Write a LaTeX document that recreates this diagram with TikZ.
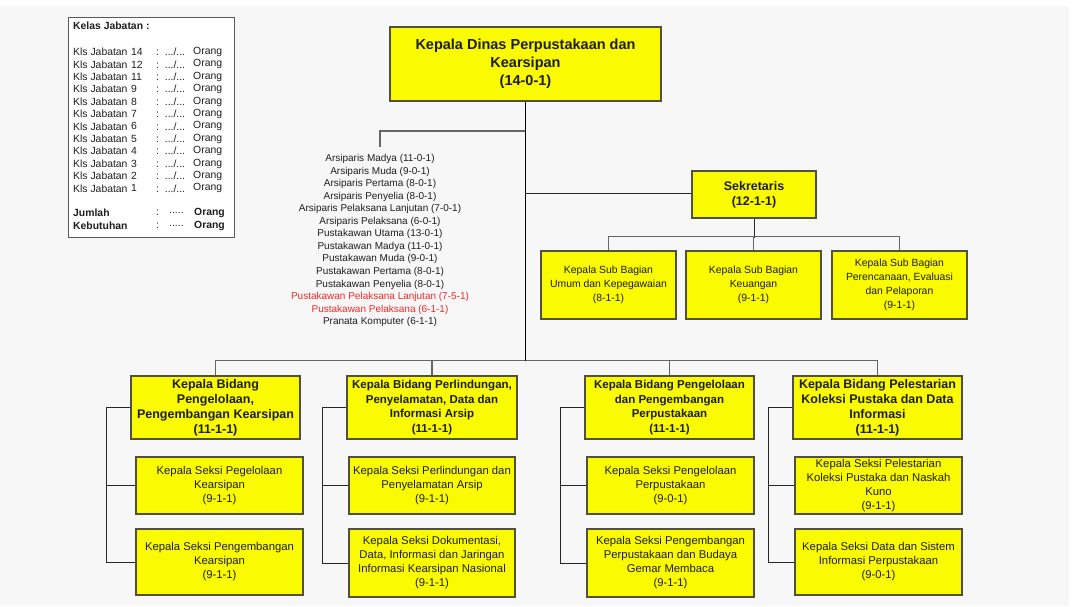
\documentclass[tikz,border=0pt]{standalone}
\usepackage{fontspec}
\setmainfont{Liberation Sans}
\usetikzlibrary{positioning}

\definecolor{bgc}{RGB}{247,247,247}
\definecolor{boxy}{RGB}{250,250,0}
\definecolor{boxline}{RGB}{80,80,60}
\definecolor{redtxt}{RGB}{250,40,40}
\definecolor{txt}{RGB}{30,30,30}

\begin{document}
\begin{tikzpicture}[x=1pt, y=-1pt]
  \tikzset{
    jab/.style={draw=boxline, fill=boxy, line width=1.2pt, align=center, inner sep=1pt, text=txt},
    head/.style={jab, font=\fontsize{12.5}{15}\selectfont\bfseries},
    headsm/.style={jab, font=\fontsize{11.5}{14.5}\selectfont\bfseries},
    seksi/.style={jab, font=\fontsize{11.3}{14}\selectfont},
    subbag/.style={jab, font=\fontsize{10.4}{14}\selectfont},
    trunk/.style={draw=black, line width=1.7pt},
    bus/.style={draw=black!60, line width=1.1pt},
    side/.style={draw=black!85, line width=0.9pt},
    leg/.style={font=\fontsize{10.4}{12}\selectfont, anchor=west, inner sep=0pt, text=txt},
    legb/.style={leg, font=\fontsize{10.4}{12}\selectfont\bfseries}
  }

  % canvas
  \useasboundingbox (0,0) rectangle (1076,606);
  \fill[white] (0,0) rectangle (1076,606);
  \fill[bgc] (0,6) rectangle (1069,606);

  % legend (kelas jabatan)
  \draw[fill=white, draw=black!65, line width=0.9pt] (68,17) rectangle (234,237);
  \node[legb] (legT) at (73,26) {Kelas Jabatan :};
  \foreach \n [count=\i from 0] in {14,12,11,9,8,7,6,5,4,3,2,1} {
    \node[leg] at (73,{52+12.4*\i}) {Kls Jabatan};
    \node[leg] at (131,{52+12.4*\i}) {\n};
    \node[leg] at (156,{52+12.4*\i}) {:\ \ .../...};
    \node[leg] at (193,{52+12.4*\i}) {Orang};
  }
  \node[legb] (legJ) at (73,213) {Jumlah};
  \node[leg] at (156,213) {:};
  \node[leg] at (169,213) {.....};
  \node[legb] at (194,213) {Orang};
  \node[legb] (legK) at (73,226) {Kebutuhan};
  \node[leg] at (156,226) {:};
  \node[leg] at (169,226) {.....};
  \node[legb] at (194,226) {Orang};

  % kepala dinas and sekretariat
  \node[jab, font=\fontsize{14.5}{18}\selectfont\bfseries, minimum width=271pt, minimum height=74pt] (kadis) at (525.5,64)
    {Kepala Dinas Perpustakaan dan\\Kearsipan\\(14-0-1)};
  \node[head, minimum width=124pt, minimum height=47pt] (sek) at (754,194.5) {Sekretaris\\(12-1-1)};
  \node[subbag, minimum width=135pt, minimum height=68pt] (sb1) at (608.5,285) {Kepala Sub Bagian\\Umum dan Kepegawaian\\(8-1-1)};
  \node[subbag, minimum width=135pt, minimum height=68pt] (sb2) at (753.5,285) {Kepala Sub Bagian\\Keuangan\\(9-1-1)};
  \node[subbag, minimum width=135pt, minimum height=68pt] (sb3) at (899.5,285) {Kepala Sub Bagian\\Perencanaan, Evaluasi\\dan Pelaporan\\(9-1-1)};

  % jabatan fungsional
  \node[font=\fontsize{10}{12.55}\selectfont, align=center, inner sep=0pt, text=txt] (fung) at (380,240.5)
    {Arsiparis Madya (11-0-1)\\Arsiparis Muda (9-0-1)\\Arsiparis Pertama (8-0-1)\\Arsiparis Penyelia (8-0-1)\\
     Arsiparis Pelaksana Lanjutan (7-0-1)\\Arsiparis Pelaksana (6-0-1)\\Pustakawan Utama (13-0-1)\\
     Pustakawan Madya (11-0-1)\\Pustakawan Muda (9-0-1)\\Pustakawan Pertama (8-0-1)\\Pustakawan Penyelia (8-0-1)\\
     \textcolor{redtxt}{Pustakawan Pelaksana Lanjutan (7-5-1)}\\\textcolor{redtxt}{Pustakawan Pelaksana (6-1-1)}\\
     Pranata Komputer (6-1-1)};

  % kepala bidang
  \node[head, minimum width=169pt, minimum height=63pt] (h1) at (215.5,407.5) {Kepala Bidang\\Pengelolaan,\\Pengembangan Kearsipan\\(11-1-1)};
  \node[headsm, minimum width=170pt, minimum height=63pt] (h2) at (432,407.5) {Kepala Bidang Perlindungan,\\Penyelamatan, Data dan\\Informasi Arsip\\(11-1-1)};
  \node[headsm, minimum width=169pt, minimum height=63pt] (h3) at (669.5,407.5) {Kepala Bidang Pengelolaan\\dan Pengembangan\\Perpustakaan\\(11-1-1)};
  \node[head, minimum width=169pt, minimum height=63pt] (h4) at (877.5,407.5) {Kepala Bidang Pelestarian\\Koleksi Pustaka dan Data\\Informasi\\(11-1-1)};

  % kepala seksi
  \node[seksi, minimum width=167pt, minimum height=57pt] (s11) at (219.5,485.5) {Kepala Seksi Pegelolaan\\Kearsipan\\(9-1-1)};
  \node[seksi, minimum width=167pt, minimum height=66pt] (s12) at (219.5,562) {Kepala Seksi Pengembangan\\Kearsipan\\(9-1-1)};
  \node[seksi, minimum width=166pt, minimum height=57pt] (s21) at (432,485.5) {Kepala Seksi Perlindungan dan\\Penyelamatan Arsip\\(9-1-1)};
  \node[seksi, minimum width=166pt, minimum height=68pt] (s22) at (432,563) {Kepala Seksi Dokumentasi,\\Data, Informasi dan Jaringan\\Informasi Kearsipan Nasional\\(9-1-1)};
  \node[seksi, minimum width=167pt, minimum height=57pt] (s31) at (670.5,485.5) {Kepala Seksi Pengelolaan\\Perpustakaan\\(9-0-1)};
  \node[seksi, minimum width=167pt, minimum height=68pt] (s32) at (670.5,563) {Kepala Seksi Pengembangan\\Perpustakaan dan Budaya\\Gemar Membaca\\(9-1-1)};
  \node[seksi, minimum width=167pt, minimum height=57pt] (s41) at (878.5,485.5) {Kepala Seksi Pelestarian\\Koleksi Pustaka dan Naskah\\Kuno\\(9-1-1)};
  \node[seksi, minimum width=167pt, minimum height=66pt] (s42) at (878.5,562) {Kepala Seksi Data dan Sistem\\Informasi Perpustakaan\\(9-0-1)};

  % junction points
  \coordinate (jlist) at (525.5,131);
  \coordinate (lend) at (380,147);
  \coordinate (jsek) at (525.5,193);
  \coordinate (jbus) at (525.5,361);

  % connectors
  \draw[bus] (jlist) -| (lend);
  \draw[side] (jsek) -- (jsek -| sek.west);
  \draw[side] (sek.south) -- ++(0,19);
  \draw[bus] (sb1.north) -- ++(0,-14) -| (sb3.north);
  \draw[bus] (sb2.north) -- ++(0,-14);
  \draw[bus] (h1.north) -- ++(0,-15) -| (h4.north);
  \draw[bus] (h2.north) -- ++(0,-15);
  \draw[bus] (h3.north) -- ++(0,-15);
  \draw[trunk] (kadis.south) -- (jbus);
  \foreach \c in {1,2,3,4} {
    \coordinate (c\c) at ([xshift=-24pt]h\c.west);
    \draw[side] (h\c.west) -- (c\c) |- (s\c2.west);
    \draw[side] (s\c1.west) -- (s\c1.west -| c\c);
  }
\end{tikzpicture}
\end{document}
